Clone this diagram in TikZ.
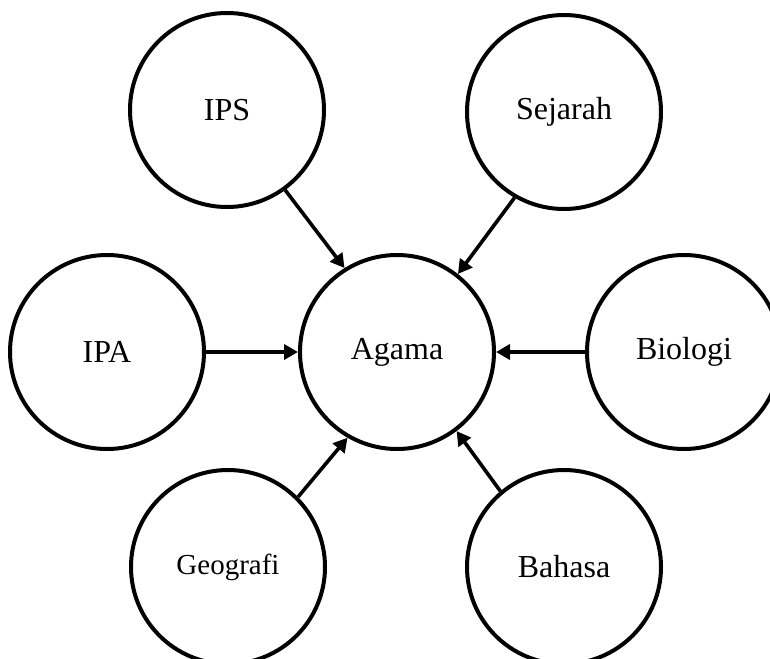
\documentclass[tikz,border=0pt]{standalone}
\usepackage{fontspec}
\setmainfont{Liberation Serif}
\usetikzlibrary{arrows.meta}
\begin{document}
\begin{tikzpicture}[x=1pt,y=-1pt,
  topic/.style={draw, circle, line width=4pt, minimum size=194pt, inner sep=0pt, font=\fontsize{32}{38}\selectfont},
  link/.style={line width=3.6pt, -{Triangle[length=14pt,width=15pt]}}]
\useasboundingbox (0,0) rectangle (770,658);
\clip (0,0) rectangle (770,658);
\node[topic] (agama) at (397,352) {Agama};
\node[topic] (ips) at (227,110) {IPS};
\node[topic] (sejarah) at (564,112) {Sejarah};
\node[topic] (ipa) at (107,352) {IPA};
\node[topic] (biologi) at (684,352) {Biologi};
\node[topic, font=\fontsize{29}{34}\selectfont] (geografi) at (228,567) {Geografi};
\node[topic] (bahasa) at (564,567) {Bahasa};
\draw[link] (ips.306) -- (agama.122);
\draw[link] (sejarah.240) -- (agama.52);
\draw[link] (ipa.east) -- (agama.west);
\draw[link] (biologi.west) -- (agama.east);
\draw[link] (geografi.45) -- (agama.240);
\draw[link] (bahasa.130) -- (agama.307);
\end{tikzpicture}
\end{document}
